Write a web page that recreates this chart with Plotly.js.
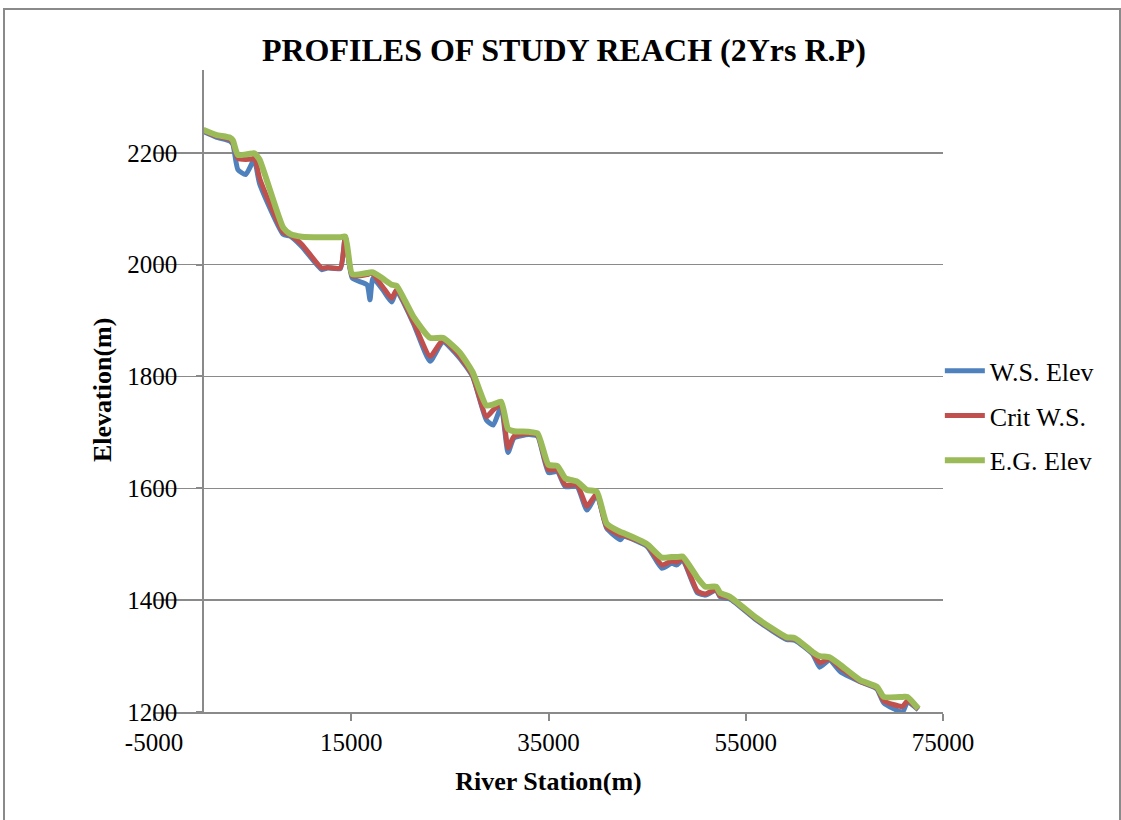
<!DOCTYPE html>
<html>
<head>
<meta charset="utf-8">
<script src="https://cdn.plot.ly/plotly-3.0.1.min.js"></script>
<style>
  html, body { margin: 0; padding: 0; background: #fff; }
  #chart { width: 1121px; height: 820px; position: absolute; left: 0; top: 0; }
  #frame { position: absolute; left: 3px; top: 8px; width: 1114px; height: 830px; border: 2px solid #8a8a8a; pointer-events: none; }
</style>
</head>
<body>
<div id="chart"></div>
<div id="frame"></div>
<script>
const stations = [0, 1300, 2700, 3000, 3500, 4300, 5100, 5200, 5700, 8100, 8800, 10000, 12000, 12600, 13900, 14400, 15100, 16600, 16900, 17200, 18200, 19100, 19600, 21300, 23000, 24300, 26000, 27300, 28700, 29400, 30200, 30900, 31500, 33000, 33900, 35000, 35900, 36700, 37900, 38900, 39900, 40900, 42300, 42600, 45000, 46500, 47500, 48000, 48600, 50100, 50900, 52000, 52400, 53400, 56100, 59100, 60000, 61800, 62500, 63500, 64600, 66600, 68300, 69000, 70900, 71400, 72500];
const wsElev = [2238, 2228, 2221, 2215, 2170, 2161, 2187, 2188, 2145, 2054, 2051, 2032, 1991, 1994, 1993, 2050, 1976, 1964, 1937, 1976, 1955, 1933, 1953, 1895, 1827, 1862, 1833, 1800, 1722, 1713, 1746, 1664, 1690, 1696, 1693, 1628, 1630, 1603, 1603, 1561, 1588, 1529, 1508, 1514, 1496, 1457, 1466, 1463, 1472, 1413, 1409, 1418, 1406, 1402, 1364, 1330, 1328, 1303, 1280, 1293, 1272, 1254, 1241, 1216, 1200, 1218, 1204];
const critWS = [2240, 2230, 2224, 2218, 2190, 2188, 2190, 2195, 2155, 2058, 2053, 2036, 1994, 1995, 1994, 2050, 1980, 1982, 1984, 1983, 1960, 1940, 1955, 1898, 1836, 1865, 1836, 1802, 1728, 1740, 1750, 1672, 1693, 1698, 1695, 1633, 1633, 1606, 1606, 1568, 1590, 1531, 1516, 1516, 1498, 1463, 1470, 1468, 1474, 1416, 1411, 1419, 1408, 1404, 1366, 1332, 1330, 1305, 1288, 1295, 1279, 1255, 1243, 1220, 1210, 1220, 1205];
const egElev = [2241, 2232, 2227, 2222, 2196, 2197, 2199, 2199, 2188, 2066, 2055, 2050, 2049, 2049, 2049, 2050, 1983, 1985, 1986, 1986, 1975, 1964, 1962, 1907, 1869, 1869, 1843, 1808, 1748, 1750, 1755, 1706, 1702, 1701, 1698, 1642, 1640, 1618, 1612, 1597, 1594, 1537, 1522, 1520, 1500, 1476, 1477, 1477, 1478, 1440, 1424, 1424, 1413, 1406, 1368, 1334, 1332, 1307, 1300, 1298, 1284, 1257, 1245, 1227, 1227, 1227, 1206];
const seriesNames = ['W.S. Elev', 'Crit W.S.', 'E.G. Elev'];
const xTickVals = [-5000, 15000, 35000, 55000, 75000];
const yTickVals = [1200, 1400, 1600, 1800, 2000, 2200];

const colors = ['#4F81BD', '#C0504D', '#9BBB59'];
const widths = [5, 5, 6];
const ys = [wsElev, critWS, egElev];

const traces = ys.map((y, i) => ({
  type: 'scatter', mode: 'lines', x: stations, y: y, name: seriesNames[i],
  legendgroup: 'g' + i,
  line: { color: colors[i], width: widths[i], shape: 'spline', smoothing: 0.5 },
  hoverinfo: 'skip'
}));

const serif = 'Liberation Serif, Times New Roman, serif';
const layout = {
  width: 1121, height: 820,
  margin: { l: 154, r: 178, t: 70, b: 108, pad: 0 },
  paper_bgcolor: '#ffffff', plot_bgcolor: '#ffffff',
  font: { family: serif, size: 25, color: '#000' },
  title: { text: '<b>PROFILES OF STUDY REACH (2Yrs R.P)</b>', x: 0.503, xref: 'container', xanchor: 'center', y: 0.939, yref: 'container', yanchor: 'middle', font: { family: serif, size: 32, color: '#000' } },
  xaxis: {
    range: [-5000, 75000], tickvals: xTickVals, ticktext: xTickVals.map(String),
    showgrid: false, zeroline: false, showline: true, linecolor: '#8a8a8a', linewidth: 2,
    ticks: 'outside', ticklen: 7, tickcolor: '#8a8a8a', tickwidth: 2,
    tickfont: { family: serif, size: 25, color: '#000' },
    title: { text: '<b>River Station(m)</b>', font: { family: serif, size: 26, color: '#000' }, standoff: 17 }
  },
  yaxis: {
    range: [1200, 2348], tickvals: yTickVals, ticktext: yTickVals.map(String),
    anchor: 'free', position: 0.0625,
    showgrid: true, gridcolor: '#8a8a8a', gridwidth: 1.6, zeroline: false,
    showline: true, linecolor: '#8a8a8a', linewidth: 2,
    ticks: 'outside', ticklen: 6, tickcolor: '#8a8a8a', tickwidth: 2,
    ticklabelstandoff: 14,
    tickfont: { family: serif, size: 25, color: '#000' }
  },
  showlegend: true,
  legend: { x: 0.996, xanchor: 'left', y: 0.568, yanchor: 'top', traceorder: 'grouped', tracegroupgap: 8, font: { family: serif, size: 26, color: '#000' }, bgcolor: 'rgba(0,0,0,0)', itemwidth: 40 },
  annotations: [{
    text: '<b>Elevation(m)</b>', textangle: -90, xref: 'paper', yref: 'paper',
    x: -0.0646, y: 0.5016, xanchor: 'center', yanchor: 'middle', showarrow: false,
    font: { family: serif, size: 26, color: '#000' }
  }]
};

Plotly.newPlot('chart', traces, layout, { displayModeBar: false, staticPlot: true });
</script>
</body>
</html>
